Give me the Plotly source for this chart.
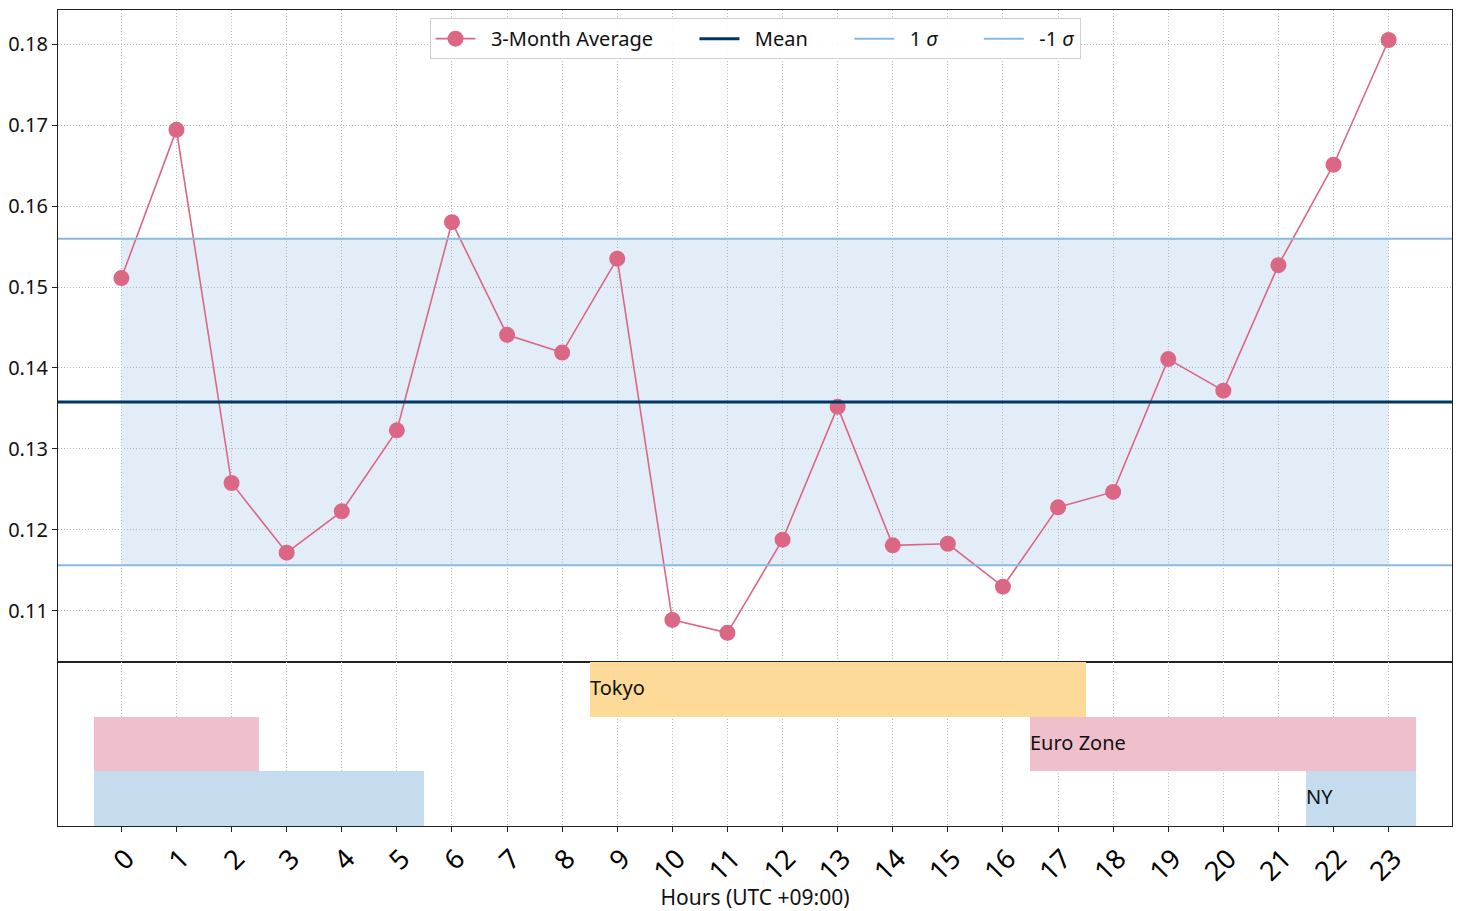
import numpy as np
import plotly.graph_objects as go
from plotly.subplots import make_subplots

# ---- data ----
hours = list(range(24))
avg_3m = [0.1511, 0.1694, 0.1258, 0.1172, 0.1223, 0.1323, 0.1580, 0.1441,
          0.1419, 0.1535, 0.1089, 0.1073, 0.1188, 0.1352, 0.1181, 0.1183,
          0.1130, 0.1228, 0.1247, 0.1411, 0.1372, 0.1527, 0.1651, 0.1805]
tick_labels = [str(h) for h in hours]
y_ticks = [0.11, 0.12, 0.13, 0.14, 0.15, 0.16, 0.17, 0.18]

session_names = ["Tokyo", "Euro Zone", "NY"]
session_rows = [2, 1, 0]
session_starts = [[8.5], [16.5, -0.5], [21.5, -0.5]]
session_ends = [[17.5], [23.5, 2.5], [23.5, 5.5]]
session_colors = ["#FDDA98", "#EFC0CB", "#C5DCEF"]

mean_val = float(np.mean(avg_3m))
std_val = float(np.std(avg_3m, ddof=1))

FONT = "Noto Sans"
XRANGE = [-1.15, 24.15]
LINE_C = "#DC6785"
MEAN_C = "#003865"
SIG_C = "#8AB8E0"
PRE = "&nbsp;" * 2
PAD = "&nbsp;" * 7

fig = make_subplots(rows=2, cols=1, shared_xaxes=True, vertical_spacing=0,
                    row_heights=[652, 164])

# shaded +-1 sigma band
fig.add_trace(go.Scatter(x=hours, y=[mean_val - std_val] * len(hours), mode="lines",
                         line=dict(width=0), showlegend=False, hoverinfo="skip"), row=1, col=1)
fig.add_trace(go.Scatter(x=hours, y=[mean_val + std_val] * len(hours), mode="lines",
                         line=dict(width=0), fill="tonexty",
                         fillcolor="rgba(140,182,224,0.25)", showlegend=False,
                         hoverinfo="skip"), row=1, col=1)

fig.add_trace(go.Scatter(x=hours, y=avg_3m, mode="lines+markers",
                         name=PRE + "3-Month Average" + PAD,
                         line=dict(color=LINE_C, width=1.6),
                         marker=dict(color=LINE_C, size=16, line=dict(width=0))),
              row=1, col=1)
fig.add_trace(go.Scatter(x=XRANGE, y=[mean_val] * 2, mode="lines", name=PRE + "Mean" + PAD,
                         line=dict(color=MEAN_C, width=3)), row=1, col=1)
fig.add_trace(go.Scatter(x=XRANGE, y=[mean_val + std_val] * 2, mode="lines",
                         name=PRE + "1 <i>σ</i>" + PAD, line=dict(color=SIG_C, width=2)),
              row=1, col=1)
fig.add_trace(go.Scatter(x=XRANGE, y=[mean_val - std_val] * 2, mode="lines",
                         name=PRE + "-1 <i>σ</i>", line=dict(color=SIG_C, width=2)),
              row=1, col=1)

# sessions
for name, row, starts, ends, col in zip(session_names, session_rows, session_starts,
                                        session_ends, session_colors):
    fig.add_trace(go.Bar(y=[row] * len(starts), base=starts,
                         x=[e - s for s, e in zip(starts, ends)], orientation="h",
                         marker=dict(color=col, line=dict(width=0)), width=1,
                         showlegend=False, hoverinfo="skip"), row=2, col=1)
    fig.add_annotation(x=starts[0], y=row, text=name, showarrow=False,
                       xanchor="left", yanchor="middle", xref="x2", yref="y2",
                       font=dict(family=FONT, size=20, color="#111"), xshift=-2, yshift=2)

grid = dict(showgrid=True, gridcolor="#bbbbbb", gridwidth=1, griddash="1px,2px")
axis_line = dict(showline=True, linecolor="#222", linewidth=1.3, mirror=True)

fig.update_xaxes(range=XRANGE, tickvals=hours, ticktext=tick_labels, zeroline=False,
                 automargin=False, **grid, **axis_line)
fig.update_xaxes(showticklabels=False, ticks="", row=1, col=1)
fig.update_xaxes(ticks="outside", ticklen=5, tickcolor="#222", tickangle=-45,
                 tickfont=dict(family=FONT, size=27, color="#000"),
                 title=dict(text="Hours (UTC +09:00)", font=dict(family=FONT, size=21, color="#111"),
                            standoff=0),
                 ticklabelshift=5, row=2, col=1)
fig.update_yaxes(range=[0.1037, 0.1842], tickvals=y_ticks,
                 tickformat=".2f", ticks="outside", ticklen=5, tickcolor="#222",
                 tickfont=dict(family=FONT, size=20, color="#111"), zeroline=False,
                 automargin=False, **grid, **axis_line, row=1, col=1)
fig.update_yaxes(range=[-0.5, 2.5], showticklabels=False, showgrid=False, ticks="",
                 zeroline=False, automargin=False, **axis_line, row=2, col=1)

fig.update_layout(
    width=1463, height=911, plot_bgcolor="white", paper_bgcolor="white",
    margin=dict(l=58, r=11, t=10, b=85), barmode="overlay", bargap=0,
    font=dict(family=FONT, color="#111"),
    legend=dict(orientation="h", x=0.5, xanchor="center", y=0.99, yanchor="top",
                traceorder="normal",
                bgcolor="rgba(255,255,255,0.9)", bordercolor="#d0d0d0", borderwidth=1,
                font=dict(family=FONT, size=20, color="#111"), itemwidth=40),
)

fig.write_html("out.html")
